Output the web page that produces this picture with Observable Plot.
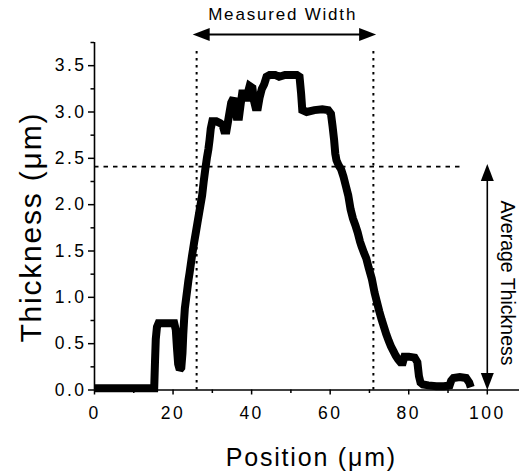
<!DOCTYPE html>
<html>
<head>
<meta charset="utf-8">
<script src="https://cdn.jsdelivr.net/npm/d3@7"></script>
<script src="https://cdn.jsdelivr.net/npm/@observablehq/plot@0.6"></script>
<style>
  html, body { margin: 0; padding: 0; background: white; }
  g[aria-label="y-axis tick label"] text, g[aria-label="x-axis tick label"] text { letter-spacing: 2.5px; }
  text[aria-label="axis title"] { letter-spacing: 1.8px; }
  text[aria-label="measured label"] { letter-spacing: 1.8px; }
</style>
</head>
<body>
<div id="chart"></div>
<script>
// Profile data: position (µm) and thickness (µm)
const position = [0, 15.2, 15.4, 15.6, 15.9, 16.3, 18.5, 20.3, 20.7, 21.0, 21.3, 21.7, 22.1, 22.4, 22.6, 22.8,
  23.0, 23.3, 23.6, 23.9, 24.2, 24.5, 24.8, 25.1, 25.4, 25.8, 26.2, 26.6, 27.0, 27.4, 27.8, 28.2, 28.6,
  29.0, 29.3, 29.6, 30.0, 31.0, 32.0, 32.6, 33.0, 33.6, 34.0, 34.4, 34.8, 35.4, 35.8, 36.2, 36.8, 37.2,
  37.6, 38.2, 38.6, 39.0, 39.5, 40.2, 40.6, 41.0, 41.6, 42.0, 42.6, 43.2, 43.8, 44.6, 46.0, 47.0, 48.5,
  50.0, 51.5, 52.2, 52.6, 52.9, 54.0, 56.0, 58.0, 59.5, 60.2, 60.6, 61.0, 61.3, 61.6, 62.2, 62.8, 63.4,
  64.0, 64.6, 65.2, 65.8, 66.4, 67.0, 67.6, 68.0, 68.6, 69.2, 69.8, 70.6, 71.3, 71.9, 72.5, 73.1, 73.7,
  74.3, 74.9, 75.5, 76.1, 76.7, 77.3, 77.9, 78.5, 78.9, 80.0, 81.5, 82.2, 82.6, 83.0, 83.6, 85.0, 87.0,
  89.0, 90.4, 90.8, 91.4, 93.0, 94.6, 95.4, 95.8];
const thickness = [0.02, 0.02, 0.3, 0.55, 0.68, 0.72, 0.72, 0.72, 0.65, 0.45, 0.28, 0.22, 0.24, 0.4, 0.6, 0.75,
  0.88, 0.98, 1.08, 1.18, 1.26, 1.35, 1.44, 1.52, 1.6, 1.7, 1.8, 1.9, 2.0, 2.1, 2.25, 2.38, 2.5,
  2.6, 2.7, 2.82, 2.9, 2.9, 2.88, 2.86, 2.8, 2.8, 2.9, 3.0, 3.1, 3.15, 3.05, 2.95, 2.95, 3.08,
  3.2, 3.2, 3.12, 3.2, 3.28, 3.26, 3.12, 3.05, 3.05, 3.15, 3.25, 3.3, 3.38, 3.4, 3.4, 3.38, 3.4,
  3.4, 3.4, 3.38, 3.2, 3.02, 3.0, 3.02, 3.03, 3.02, 2.98, 2.85, 2.7, 2.55, 2.48, 2.42, 2.38, 2.3,
  2.2, 2.1, 1.95, 1.85, 1.78, 1.7, 1.6, 1.55, 1.48, 1.42, 1.32, 1.2, 1.05, 0.95, 0.85, 0.76, 0.68,
  0.6, 0.53, 0.47, 0.42, 0.37, 0.33, 0.3, 0.3, 0.36, 0.36, 0.35, 0.3, 0.15, 0.08, 0.06, 0.05, 0.04,
  0.04, 0.05, 0.1, 0.13, 0.14, 0.13, 0.08, 0.03];

// Axis ticks
const xMajorTicks = [0, 20, 40, 60, 80, 100];
const xMinorTicks = [10, 30, 50, 70, 90];
const yMajorTicks = [0, 0.5, 1.0, 1.5, 2.0, 2.5, 3.0, 3.5];
const yMinorTicks = [0.25, 0.75, 1.25, 1.75, 2.25, 2.75, 3.25, 3.75];

// Annotations
const widthEdges = [26, 71];          // dotted vertical lines (µm)
const widthEdgeTop = 3.68;
const averageThickness = 2.41;        // dashed horizontal line
const averageLineEnd = 94;
const widthArrowY = 3.835;
const widthArrowTips = [25.0, 71.7];
const thickArrowX = 100;
const thickArrowTips = [0, 2.44];
const labels = {
  measured: {text: "Measured Width", x: 47.9, y: 3.99},
  average: {text: "Average Thickness", x: 105.1, y: 1.155},
  xTitle: {text: "Position (\u03bcm)", x: 55.2, y: -0.815},
  yTitle: {text: "Thickness (\u03bcm)", x: -13.5, y: 1.757}
};

const profile = position.map((p, i) => ({p, t: thickness[i]}));

// Filled arrowhead symbols (tip at the anchor point)
const HL = 17, HW = 6.5;
const headUp = {draw(c) { c.moveTo(0, 0); c.lineTo(-HW, HL); c.lineTo(HW, HL); c.closePath(); }};
const headDown = {draw(c) { c.moveTo(0, 0); c.lineTo(-HW, -HL); c.lineTo(HW, -HL); c.closePath(); }};
const headLeft = {draw(c) { c.moveTo(0, 0); c.lineTo(HL, -HW); c.lineTo(HL, HW); c.closePath(); }};
const headRight = {draw(c) { c.moveTo(0, 0); c.lineTo(-HL, -HW); c.lineTo(-HL, HW); c.closePath(); }};

const chart = Plot.plot({
  width: 519,
  height: 474,
  marginLeft: 94,
  marginRight: 0,
  marginTop: 42,
  marginBottom: 84.5,
  style: {fontFamily: "'Liberation Sans', Arial, Helvetica, sans-serif", background: "white", color: "black"},
  x: {domain: [0, 108.2]},
  y: {domain: [0, 3.75]},
  marks: [
    // dotted width edges
    Plot.ruleX(widthEdges, {x: d => d, y1: 0, y2: widthEdgeTop, stroke: "black", strokeWidth: 2, strokeDasharray: "2.5,4.5"}),
    // dashed average line
    Plot.ruleY([averageThickness], {y: d => d, x1: 0, x2: averageLineEnd, stroke: "black", strokeWidth: 1.8, strokeDasharray: "4.5,5"}),
    // profile
    Plot.line(profile, {x: "p", y: "t", stroke: "black", strokeWidth: 8, strokeLinejoin: "miter", strokeMiterlimit: 2, strokeLinecap: "butt"}),
    // axis lines
    Plot.ruleY([0], {stroke: "black", strokeWidth: 1.6}),
    Plot.ruleX([0], {stroke: "black", strokeWidth: 1.6}),
    // axes
    Plot.axisX({ticks: xMajorTicks, tickSize: 5, tickPadding: 12, fontSize: 17.5, strokeWidth: 1.5, label: null, tickFormat: d => String(d)}),
    Plot.axisX({ticks: xMinorTicks, tickSize: 3.5, strokeWidth: 1.5, label: null, tickFormat: () => ""}),
    Plot.axisY({ticks: yMajorTicks, tickSize: 6, tickPadding: 2, fontSize: 17.5, strokeWidth: 1.5, label: null, tickFormat: d3.format(".1f")}),
    Plot.axisY({ticks: yMinorTicks, tickSize: 3.5, strokeWidth: 1.5, label: null, tickFormat: () => ""}),
    // measured width arrow
    Plot.ruleY([widthArrowY], {y: d => d, x1: widthArrowTips[0] + 2, x2: widthArrowTips[1] - 2, stroke: "black", strokeWidth: 2}),
    Plot.dot([widthArrowTips[0]], {x: d => d, y: widthArrowY, symbol: headLeft, fill: "black", stroke: "none"}),
    Plot.dot([widthArrowTips[1]], {x: d => d, y: widthArrowY, symbol: headRight, fill: "black", stroke: "none"}),
    // average thickness arrow
    Plot.ruleX([thickArrowX], {x: d => d, y1: thickArrowTips[0] + 0.05, y2: thickArrowTips[1] - 0.05, stroke: "black", strokeWidth: 1.6}),
    Plot.dot([thickArrowTips[0]], {x: thickArrowX, y: d => d, symbol: headDown, fill: "black", stroke: "none"}),
    Plot.dot([thickArrowTips[1]], {x: thickArrowX, y: d => d, symbol: headUp, fill: "black", stroke: "none"}),
    // labels
    Plot.text([labels.measured], {x: "x", y: "y", text: "text", fontSize: 17, lineAnchor: "bottom", textAnchor: "middle", fill: "black", ariaLabel: () => "measured label"}),
    Plot.text([labels.average], {x: "x", y: "y", text: "text", fontSize: 19.5, rotate: 90, lineAnchor: "middle", textAnchor: "middle", fill: "black"}),
    Plot.text([labels.xTitle], {x: "x", y: "y", text: "text", fontSize: 25, lineAnchor: "bottom", textAnchor: "middle", fill: "black", ariaLabel: () => "axis title"}),
    Plot.text([labels.yTitle], {x: "x", y: "y", text: "text", fontSize: 30, rotate: -90, lineAnchor: "bottom", textAnchor: "middle", fill: "black", ariaLabel: () => "axis title"})
  ]
});
document.getElementById("chart").appendChild(chart);
</script>
</body>
</html>
